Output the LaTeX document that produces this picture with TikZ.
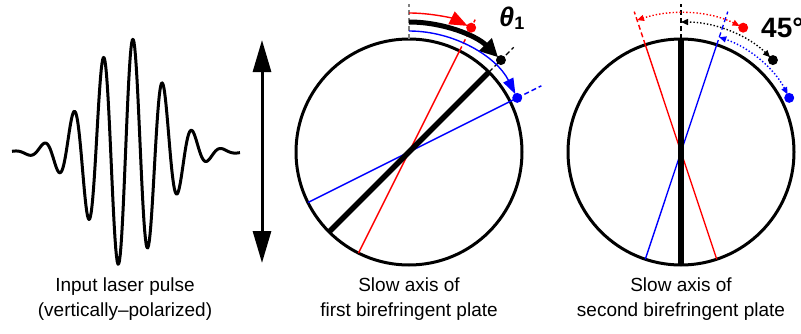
\documentclass[tikz,border=0pt]{standalone}
\usepackage{fontspec}
\setmainfont{Liberation Sans}
\usetikzlibrary{arrows.meta}
\begin{document}
\begin{tikzpicture}[x=1pt,y=1pt,
    rim/.style={line width=3pt},
    ray/.style={line width=1.4pt},
    axis/.style={line width=5.5pt},
    ext/.style={line width=1.4pt,dash pattern=on 5pt off 3pt},
    dots/.style={line width=1.4pt,dash pattern=on 1.4pt off 2pt},
    dot/.style={circle,fill,inner sep=0pt,minimum size=10pt},
    small tip/.style={{Triangle[length=7pt,width=6pt]}-{Triangle[length=7pt,width=6pt]}},
    caption/.style={align=center,anchor=north,inner sep=0pt,font=\fontsize{19}{25}\selectfont}]
    \useasboundingbox (0,0) rectangle (801,333);

    % Laser pulse
    \draw[line width=3pt,line join=round]
        plot[domain=12:240,samples=300] (\x,{181+115*exp(-((\x-126)/51)^2)*cos(12.1212*(\x-133))});
    \draw[line width=3pt,{Triangle[length=32pt,width=18pt]}-{Triangle[length=32pt,width=18pt]}] (262,70) -- (262,293);

    % First plate
    \begin{scope}[shift={(409,181)}]
        \draw[rim] (0,0) circle (113);
        \draw[red,ray] (243.43:113) -- (63.43:113);
        \draw[blue,ray] (206.57:113) -- (26.57:113);
        \draw[axis] (225:113) -- (45:113);
        \draw[ext,gray] (90:113) -- (90:148);
        \draw[ext,red] (63.43:113) -- (63.43:148);
        \draw[ext] (45:113) -- (45:148);
        \draw[ext,blue] (26.57:113) -- (26.57:148);
        % Rotation
        \draw[red,ray,shorten >=4pt,-{Triangle[length=18pt,width=14pt]}] (90:139) arc (90:63.43:139);
        \draw[line width=5pt,shorten >=4pt,-{Triangle[length=18pt,width=17pt]}] (90:130) arc (90:45:130);
        \draw[blue,ray,shorten >=4pt,-{Triangle[length=16pt,width=11pt]}] (90:121) arc (90:26.57:121);
        \node[dot,red] (red1) at (63.43:139) {};
        \node[dot] (black1) at (45:130) {};
        \node[dot,blue] (blue1) at (26.57:121) {};
    \end{scope}
    \node[anchor=base west,inner sep=0pt] (theta) at (499,306)
        {\fontsize{27}{27}\selectfont\bfseries\itshape θ\raisebox{-3pt}{\upshape\fontsize{18}{18}\selectfont 1}};

    % Second plate
    \begin{scope}[shift={(681,181)}]
        \draw[rim] (0,0) circle (113);
        \draw[red,ray] (288.43:113) -- (108.43:113);
        \draw[blue,ray] (251.57:113) -- (71.57:113);
        \draw[axis] (270:113) -- (90:113);
        \draw[ext,red] (108.43:113) -- (108.43:148);
        \draw[ext] (90:113) -- (90:148);
        \draw[ext,blue] (71.57:113) -- (71.57:148);
        % Rotation
        \draw[red,dots,small tip,shorten <=4pt] (63.43:139) arc (63.43:108.43:139);
        \draw[dots,small tip,shorten <=4pt] (45:130) arc (45:90:130);
        \draw[blue,dots,small tip,shorten <=4pt] (26.57:121) arc (26.57:71.57:121);
        \node[dot,red] (red2) at (63.43:139) {};
        \node[dot] (black2) at (45:130) {};
        \node[dot,blue] (blue2) at (26.57:121) {};
    \end{scope}
    \node[anchor=base west,inner sep=0pt] (angle) at (761,296)
        {\fontsize{28}{28}\selectfont\bfseries 45°};

    % Captions
    \node[caption] (pulse) at (125,55) {Input laser pulse\\(vertically\textendash polarized)};
    \node[caption] (first) at (409,55) {Slow axis of\\first birefringent plate};
    \node[caption] (second) at (681,55) {Slow axis of\\second birefringent plate};
\end{tikzpicture}
\end{document}
